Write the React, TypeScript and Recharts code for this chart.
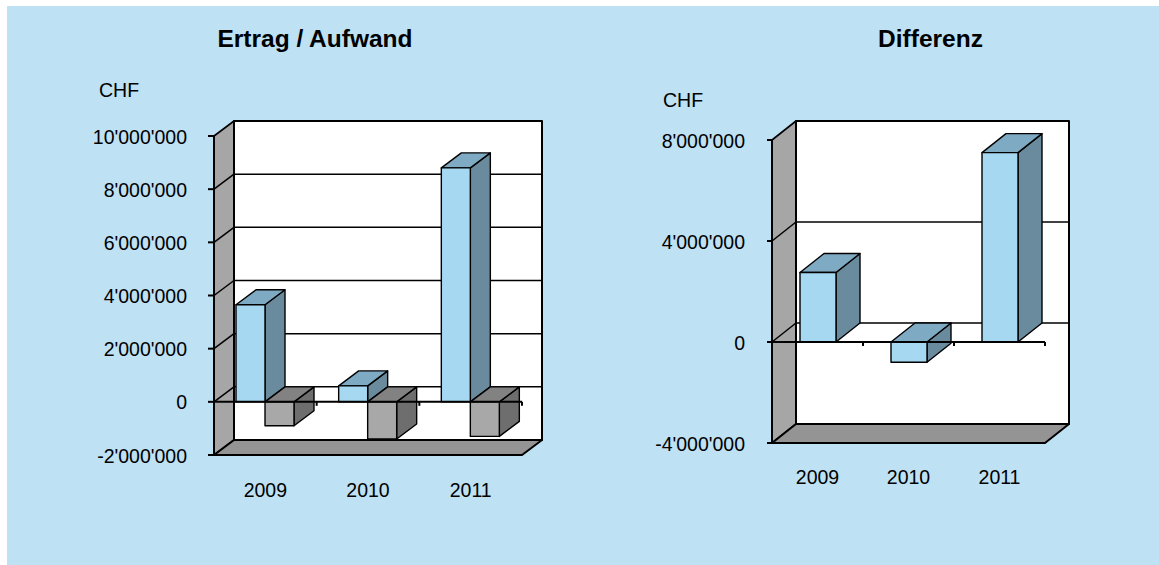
import React from 'react';
import { BarChart, Bar, XAxis, YAxis, ReferenceArea, ReferenceLine } from 'recharts';

const years = ['2009', '2010', '2011'];
const ertrag = [3650000, 600000, 8800000];
const aufwand = [-900000, -1400000, -1300000];
const differenz = [2750000, -800000, 7500000];
const leftTicks = [-2000000, 0, 2000000, 4000000, 6000000, 8000000, 10000000];
const rightTicks = [-4000000, 0, 4000000, 8000000];
const titleLeft = 'Ertrag / Aufwand';
const titleRight = 'Differenz';
const unitLabel = 'CHF';

const leftData = years.map((year, i) => ({ year, ertrag: ertrag[i], aufwand: aufwand[i] }));
const rightData = years.map((year, i) => ({ year, differenz: differenz[i] }));

const FONT = '"Liberation Sans", Arial, Helvetica, sans-serif';
const BG = '#BEE1F4';
const FS = 19.5;

const fmt = (v: number) => {
  const s = Math.abs(v).toString().replace(/\B(?=(\d{3})+(?!\d))/g, "'");
  return (v < 0 ? '-' : '') + s;
};

const makeBar3D = (dx: number, dy: number, front: string, top: string, side: string) => (props: any) => {
  const { x, y, width, height } = props;
  if (x == null || y == null || width == null || height == null) return <g />;
  const t = Math.min(y, y + height);
  const h = Math.abs(height);
  const r = x + width;
  return (
    <g stroke="#000" strokeWidth={1.4} strokeLinejoin="round">
      <polygon points={`${r},${t} ${r + dx},${t + dy} ${r + dx},${t + h + dy} ${r},${t + h}`} fill={side} />
      <polygon points={`${x},${t} ${x + dx},${t + dy} ${r + dx},${t + dy} ${r},${t}`} fill={top} />
      <rect x={x} y={t} width={width} height={h} fill={front} />
    </g>
  );
};

const makeWalls = (dx: number, dy: number) => (props: any) => {
  const { x, y, width: w, height: h } = props;
  if (x == null) return <g />;
  const b = y + h;
  return (
    <g stroke="#000" strokeLinejoin="round">
      <polygon points={`${x},${y} ${x + dx},${y + dy} ${x + dx},${b + dy} ${x},${b}`} fill="#A6A6A6" strokeWidth={1.6} />
      <polygon points={`${x},${b} ${x + w},${b} ${x + w + dx},${b + dy} ${x + dx},${b + dy}`} fill="#949494" strokeWidth={2} />
      <rect x={x + dx} y={y + dy} width={w} height={h} fill="#FFFFFF" strokeWidth={2} />
    </g>
  );
};

const makeGrid = (dx: number, dy: number) => (props: any) => {
  const { x, y, width: w, height: h } = props;
  if (x == null) return <g />;
  const yv = y + h;
  return (
    <g stroke="#000" strokeWidth={1.5} fill="none">
      <line x1={x} y1={yv} x2={x + dx} y2={yv + dy} />
      <line x1={x + dx} y1={yv + dy} x2={x + dx + w} y2={yv + dy} />
    </g>
  );
};

const makeZeroLine = (n: number) => (props: any) => {
  const { x1, y1, x2 } = props;
  if (x1 == null) return <g />;
  const step = (x2 - x1) / n;
  return (
    <g stroke="#000" strokeWidth={2}>
      <line x1={x1} y1={y1} x2={x2} y2={y1} />
      {Array.from({ length: n }, (_, i) => (
        <line key={i} x1={x1 + step * (i + 1)} y1={y1} x2={x1 + step * (i + 1)} y2={y1 + 4} />
      ))}
    </g>
  );
};

const YTick = (props: any) => {
  const { x, y, payload } = props;
  return (
    <text x={x} y={y} dy={7.5} textAnchor="end" fill="#000" fontSize={FS} fontFamily={FONT}>
      {fmt(payload.value)}
    </text>
  );
};

const XTick = (props: any) => {
  const { x, y, payload } = props;
  return (
    <text x={x} y={y} dy={14} textAnchor="middle" fill="#000" fontSize={FS} fontFamily={FONT}>
      {payload.value}
    </text>
  );
};

const LDX = 20, LDY = -15;
const RDX = 24, RDY = -19;

const leftMin = leftTicks[0];
const leftMax = leftTicks[leftTicks.length - 1];
const rightMin = rightTicks[0];
const rightMax = rightTicks[rightTicks.length - 1];

export default function App() {
  return (
    <div style={{ position: 'absolute', left: 7, top: 6, width: 1152, height: 559, background: BG, overflow: 'hidden' }}>
      <div style={{ position: 'absolute', left: 0, top: 0 }}>
        <BarChart width={580} height={559} data={leftData} margin={{ top: 130, right: 65, bottom: 50, left: 107 }} barGap={0} barSize={29}>
          <XAxis dataKey="year" axisLine={false} tickLine={false} tickSize={0} tickMargin={28} height={60} tick={<XTick />} interval={0} />
          <YAxis
            domain={[leftMin, leftMax]}
            ticks={leftTicks}
            width={100}
            interval={0}
            axisLine={{ stroke: '#000', strokeWidth: 2 }}
            tickLine={{ stroke: '#000', strokeWidth: 2 }}
            tickSize={6}
            tickMargin={21}
            tick={<YTick />}
          />
          <ReferenceArea y1={leftMin} y2={leftMax} shape={makeWalls(LDX, LDY)} ifOverflow="visible" />
          {leftTicks.slice(1, -1).map((v) => (
            <ReferenceArea key={v} y1={v} y2={leftMax} shape={makeGrid(LDX, LDY)} ifOverflow="visible" />
          ))}
          <ReferenceLine y={0} shape={makeZeroLine(years.length)} ifOverflow="visible" />
          <Bar dataKey="ertrag" isAnimationActive={false} shape={makeBar3D(LDX, LDY, '#A6D8F2', '#7FAAC3', '#6A8B9D')} />
          <Bar dataKey="aufwand" isAnimationActive={false} shape={makeBar3D(LDX, LDY, '#A8A8A8', '#828282', '#6E6E6E')} />
        </BarChart>
      </div>
      <div style={{ position: 'absolute', left: 560, top: 0 }}>
        <BarChart width={592} height={559} data={rightData} margin={{ top: 134, right: 114, bottom: 62, left: 105 }} barSize={36}>
          <XAxis dataKey="year" axisLine={false} tickLine={false} tickSize={0} tickMargin={27} height={60} tick={<XTick />} interval={0} />
          <YAxis
            domain={[rightMin, rightMax]}
            ticks={rightTicks}
            width={100}
            interval={0}
            axisLine={{ stroke: '#000', strokeWidth: 2 }}
            tickLine={{ stroke: '#000', strokeWidth: 2 }}
            tickSize={5}
            tickMargin={22}
            tick={<YTick />}
          />
          <ReferenceArea y1={rightMin} y2={rightMax} shape={makeWalls(RDX, RDY)} ifOverflow="visible" />
          {rightTicks.slice(1, -1).map((v) => (
            <ReferenceArea key={v} y1={v} y2={rightMax} shape={makeGrid(RDX, RDY)} ifOverflow="visible" />
          ))}
          <ReferenceLine y={0} shape={makeZeroLine(years.length)} ifOverflow="visible" />
          <Bar dataKey="differenz" isAnimationActive={false} shape={makeBar3D(RDX, RDY, '#A6D8F2', '#7FAAC3', '#6A8B9D')} />
        </BarChart>
      </div>
      <svg width={1152} height={559} style={{ position: 'absolute', left: 0, top: 0, pointerEvents: 'none' }}>
        <text x={308} y={41} textAnchor="middle" fontWeight="bold" fontSize={24.5} fontFamily={FONT} fill="#000">{titleLeft}</text>
        <text x={923.5} y={41} textAnchor="middle" fontWeight="bold" fontSize={24.5} fontFamily={FONT} fill="#000">{titleRight}</text>
        <text x={92} y={91} fontSize={FS} fontFamily={FONT} fill="#000">{unitLabel}</text>
        <text x={656} y={101} fontSize={FS} fontFamily={FONT} fill="#000">{unitLabel}</text>
      </svg>
    </div>
  );
}
